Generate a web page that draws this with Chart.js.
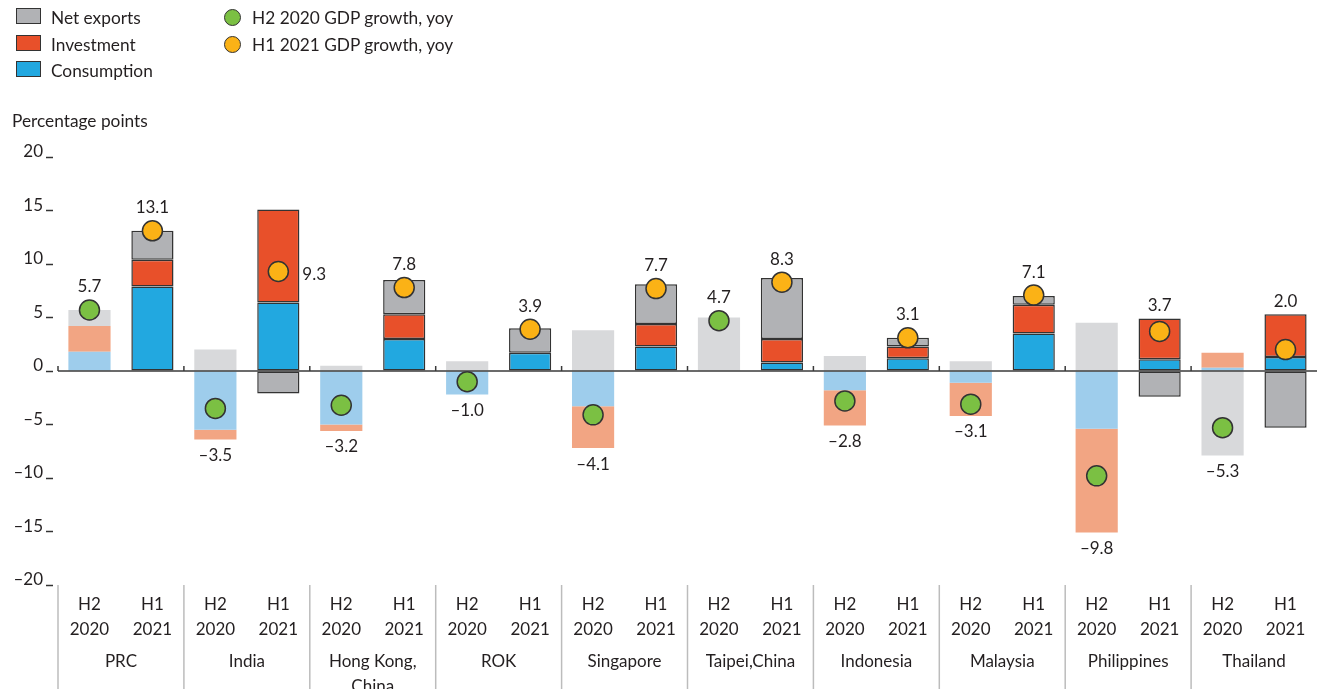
<!DOCTYPE html>
<html><head><meta charset="utf-8">
<script src="https://cdn.jsdelivr.net/npm/chart.js@4"></script>
<style>
html,body{margin:0;padding:0;background:#fff;}
#wrap{position:relative;width:1317px;height:689px;overflow:hidden;font-family:Lato,sans-serif;color:#231f20;}
#c{position:absolute;left:0;top:0;}
.lg{position:absolute;font-size:17.3px;line-height:20px;white-space:nowrap;}
.box{position:absolute;width:23px;height:14px;border:1.5px solid #333;}
.dot{position:absolute;width:15px;height:15px;border-radius:50%;border:1.5px solid #333;}
</style></head><body>
<div id="wrap">
<canvas id="c" width="1317" height="689"></canvas>
<div id="legend"></div>
<div class="lg" style="left:12px;top:111px;">Percentage points</div>
</div>
<script>
const categories = ['PRC','India',['Hong Kong,','China'],'ROK','Singapore','Taipei,China','Indonesia','Malaysia','Philippines','Thailand'];
const periods = [['H2','2020'],['H1','2021']];
const h2Consumption = [1.8,-5.5,-5.0,-2.2,-3.3,null,-1.8,-1.1,-5.4,0.3];
const h2Investment  = [2.4,-0.9,-0.6,null,-3.9,null,-3.3,-3.1,-9.7,1.4];
const h2NetExports  = [1.5,2.0,0.5,0.9,3.8,5.0,1.4,0.9,4.5,-7.9];
const h2Gdp         = [5.7,-3.5,-3.2,-1.0,-4.1,4.7,-2.8,-3.1,-9.8,-5.3];
const h1Consumption = [7.9,6.4,3.0,1.7,2.3,0.8,1.2,3.5,1.1,1.3];
const h1Investment  = [2.5,8.7,2.3,null,2.1,2.2,1.1,2.7,3.8,4.0];
const h1NetExports  = [2.7,-2.1,3.2,2.3,3.7,5.7,0.8,0.8,-2.4,-5.3];
const h1Gdp         = [13.1,9.3,7.8,3.9,7.7,8.3,3.1,7.1,3.7,2.0];
const labelRightOf  = ['India|1'];

const C = {
  lightGray:'#d8d9db', lightRed:'#f2a583', lightBlue:'#9ecdec',
  gray:'#b1b2b5', red:'#e8502a', blue:'#22a8e0',
  green:'#7bc043', orange:'#fbb216', ink:'#231f20', edge:'#333333'
};

const legendItems = [
  {t:'Net exports', c:C.gray, kind:'box', x:16, y:8},
  {t:'Investment', c:C.red, kind:'box', x:16, y:35},
  {t:'Consumption', c:C.blue, kind:'box', x:16, y:61},
  {t:'H2 2020 GDP growth, yoy', c:C.green, kind:'dot', x:224, y:9},
  {t:'H1 2021 GDP growth, yoy', c:C.orange, kind:'dot', x:224, y:36}
];
const lg = document.getElementById('legend');
legendItems.forEach(it=>{
  const m = document.createElement('div');
  m.className = it.kind; m.style.left = it.x+'px'; m.style.top = it.y+'px'; m.style.background = it.c;
  lg.appendChild(m);
  const t = document.createElement('div');
  t.className = 'lg'; t.textContent = it.t;
  t.style.left = (it.kind==='box'? it.x+35 : it.x+28)+'px'; t.style.top = (it.kind==='box'? it.y : it.y-1)+'px';
  lg.appendChild(t);
});

const xLabels = [];
categories.forEach(()=>periods.forEach(p=>xLabels.push(p)));
function spread(arr, slot){ const out=[]; arr.forEach(v=>{ out.push(slot===0?v:null); out.push(slot===1?v:null); }); return out; }
const fmt = v => (v<0?'\u2013':'') + Math.abs(v);
const fmt1 = v => (v<0?'\u2013':'') + Math.abs(v).toFixed(1);

function bar(label, arr, slot, color, bordered){
  return {type:'bar', label, data:spread(arr,slot), backgroundColor:color,
    borderColor:C.edge, borderWidth: bordered?1.5:0, borderSkipped:false,
    stack:'bars', order:2, barPercentage:0.67, categoryPercentage:1};
}
function dots(label, arr, slot, color){
  return {type:'line', label, data:spread(arr,slot), showLine:false, stack:'dots'+slot, order:0,
    pointRadius:10, pointBackgroundColor:color, pointBorderColor:C.edge, pointBorderWidth:1.5};
}

const font17 = {family:'Lato', size:17, lineHeight:1.47};

const decor = {
  id:'decor',
  afterDatasetsDraw(chart){
    const {ctx, chartArea:a, scales:{x,y}} = chart;
    const y0 = y.getPixelForValue(0);
    ctx.save();
    ctx.strokeStyle = '#3a3a3a'; ctx.lineWidth = 1.5;
    ctx.beginPath(); ctx.moveTo(a.left, y0); ctx.lineTo(a.right, y0); ctx.stroke();
    for(let g=0; g<categories.length; g++){
      const bx = g===0 ? a.left : (x.getPixelForValue(2*g-1)+x.getPixelForValue(2*g))/2;
      ctx.beginPath(); ctx.moveTo(bx, y0); ctx.lineTo(bx, y0-5); ctx.stroke();
    }
    ctx.fillStyle = C.ink; ctx.font = '17px Lato'; ctx.textAlign='center'; ctx.textBaseline='middle';
    const sets = [[h2Consumption,h2Investment,h2NetExports,h2Gdp],[h1Consumption,h1Investment,h1NetExports,h1Gdp]];
    const names = ['PRC','India','HK','ROK','Singapore','Taipei','Indonesia','Malaysia','Philippines','Thailand'];
    for(let i=0;i<categories.length;i++){
      for(let s=0;s<2;s++){
        const [c1,c2,c3,g] = sets[s];
        const parts=[c1[i],c2[i],c3[i]].map(v=>v||0);
        const pos = parts.filter(v=>v>0).reduce((a,b)=>a+b,0);
        const neg = parts.filter(v=>v<0).reduce((a,b)=>a+b,0);
        const px = x.getPixelForValue(2*i+s);
        const gy = y.getPixelForValue(g[i]);
        if(labelRightOf.includes(names[i]+'|'+s)){
          ctx.textAlign='left'; ctx.fillText(fmt1(g[i]), px+24, gy+3); ctx.textAlign='center';
        } else if(g[i]>=0){
          const top = Math.min(y.getPixelForValue(pos), gy-10);
          ctx.fillText(fmt1(g[i]), px, top-13);
        } else {
          const bot = Math.max(y.getPixelForValue(neg), gy+10);
          ctx.fillText(fmt1(g[i]), px, bot+16);
        }
      }
    }
    ctx.restore();
  },
  afterDraw(chart){
    const {ctx, chartArea:a, scales:{x}} = chart;
    ctx.save();
    ctx.strokeStyle = '#bcbcbc'; ctx.lineWidth = 1.5;
    for(let g=0; g<categories.length; g++){
      const bx = g===0 ? a.left : (x.getPixelForValue(2*g-1)+x.getPixelForValue(2*g))/2;
      ctx.beginPath(); ctx.moveTo(bx, a.bottom); ctx.lineTo(bx, chart.height); ctx.stroke();
    }
    ctx.restore();
  }
};

function noPad(h){ return s=>{ s.height=h; s.paddingLeft=0; s.paddingRight=0; }; }

new Chart(document.getElementById('c'), {
  data:{
    labels:xLabels,
    datasets:[
      bar('Consumption H2 2020', h2Consumption, 0, C.lightBlue, false),
      bar('Investment H2 2020', h2Investment, 0, C.lightRed, false),
      bar('Net exports H2 2020', h2NetExports, 0, C.lightGray, false),
      bar('Consumption H1 2021', h1Consumption, 1, C.blue, true),
      bar('Investment H1 2021', h1Investment, 1, C.red, true),
      bar('Net exports H1 2021', h1NetExports, 1, C.gray, true),
      dots('H2 2020 GDP growth, yoy', h2Gdp, 0, C.green),
      dots('H1 2021 GDP growth, yoy', h1Gdp, 1, C.orange)
    ]
  },
  options:{
    responsive:false, animation:false, devicePixelRatio:1,
    layout:{autoPadding:false, padding:{top:157,left:0,right:0,bottom:0}},
    plugins:{legend:{display:false}, tooltip:{enabled:false}},
    scales:{
      x:{stacked:true, weight:0, offset:true, grid:{display:false, drawTicks:false}, border:{display:false},
        ticks:{padding:7, font:font17, color:C.ink, maxRotation:0, autoSkip:false},
        afterFit:noPad(57)},
      x2:{type:'category', labels:categories, position:'bottom', weight:1, offset:true,
        grid:{display:false, drawTicks:false}, border:{display:false},
        ticks:{padding:7, font:font17, color:C.ink, maxRotation:0, autoSkip:false},
        afterFit:noPad(47)},
      y:{stacked:true, min:-20, max:20,
        ticks:{stepSize:5, padding:3, labelOffset:-5, font:{family:'Lato', size:17}, color:C.ink, callback:v=>fmt(v)},
        grid:{drawOnChartArea:false, drawTicks:true, tickLength:12, tickBorderDash:[7,20], tickColor:'#333', tickWidth:1.5},
        border:{display:false},
        afterFit:s=>{s.width=58;}}
    }
  },
  plugins:[decor]
});
</script>
</body></html>
